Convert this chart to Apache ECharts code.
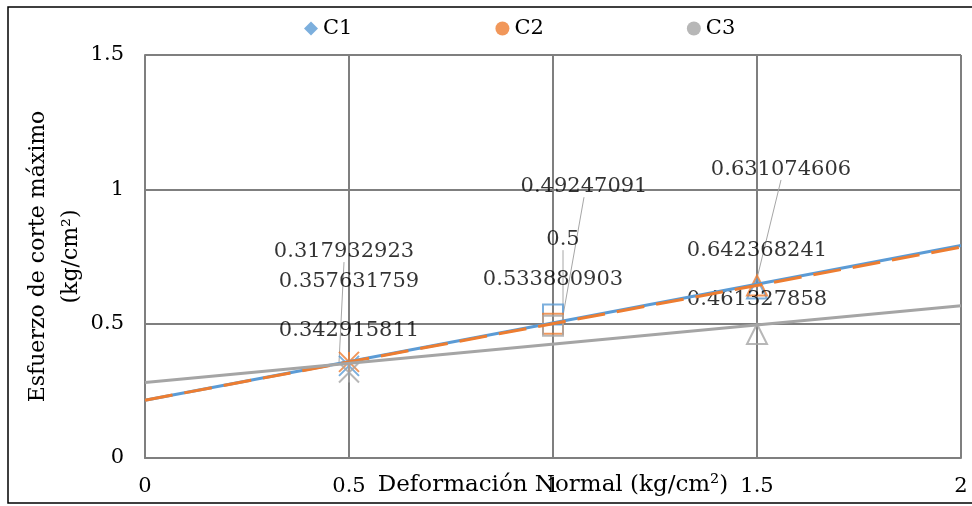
<!DOCTYPE html>
<html><head><meta charset="utf-8">
<script src="https://cdn.jsdelivr.net/npm/echarts@6/dist/echarts.min.js"></script>
<style>html,body{margin:0;padding:0;background:#fff}#chart{width:972px;height:506px}</style>
</head><body><div id="chart"></div>
<script>
// ---- data ----
const seriesNames = ['C1', 'C2', 'C3'];
const xValues = [0.5, 1, 1.5];
const c1Values = [0.342915811, 0.533880903, 0.631074606];
const c2Values = [0.357631759, 0.5, 0.642368241];
const c3Values = [0.317932923, 0.49247091, 0.461327858];
const trendX = [0, 2];
const c1Trend = [0.215, 0.791];
const c2Trend = [0.215, 0.785];
const c3Trend = [0.281, 0.567];
const xAxisTitle = 'Deformación Normal (kg/cm²)';
const yAxisTitle = 'Esfuerzo de corte máximo\n(kg/cm²)';

// ---- styling ----
const FONT = 'DejaVu Serif';
const colors = ['#5B9BD5', '#ED7D31', '#A5A5A5'];
const legendIcons = ['diamond', 'circle', 'circle'];
const pointSymbols = ['path://M0,0L20,20M20,0L0,20M10,0L10,20', 'rect', 'triangle'];
const labelShift = [
  [[0, -35], [0, -35], [24, -119]],
  [[0, -80], [10, -84], [0, -35]],
  [[-5, -121], [31, -139], [0, -35]]
];
const leader = [
  [false, false, true],
  [false, true, false],
  [true, true, false]
];

const values = [c1Values, c2Values, c3Values];
const trends = [c1Trend, c2Trend, c3Trend];

const scatterSeries = seriesNames.map((name, s) => ({
  name,
  type: 'scatter',
  z: 2,
  symbolSize: 20,
  itemStyle: { color: 'transparent', borderColor: colors[s], borderWidth: 2 },
  label: {
    show: true, position: 'inside', color: '#000',
    fontFamily: FONT, fontSize: 21,
    formatter: p => String(p.value[1])
  },
  labelLine: { show: false, lineStyle: { color: '#A6A6A6', width: 1 } },
  labelLayout: p => ({ dx: labelShift[s][p.dataIndex][0], dy: labelShift[s][p.dataIndex][1] }),
  data: xValues.map((x, i) => ({
    value: [x, values[s][i]],
    symbol: pointSymbols[i],
    labelLine: { show: leader[s][i], lineStyle: { color: '#A6A6A6', width: 1 } }
  }))
}));

const trendSeries = seriesNames.map((name, s) => ({
  name: name + ' tendencia',
  type: 'line',
  z: 3,
  symbol: 'none',
  silent: true,
  lineStyle: { color: colors[s], width: 3, type: s === 1 ? [28, 12] : 'solid' },
  data: trendX.map((x, i) => [x, trends[s][i]])
}));

const chart = echarts.init(document.getElementById('chart'));
chart.setOption({
  animation: false,
  backgroundColor: '#fff',
  graphic: [{
    type: 'rect', silent: true, z: -1,
    shape: { x: 8, y: 7, width: 980, height: 496 },
    style: { fill: 'none', stroke: '#000', lineWidth: 1.5 }
  }],
  legend: {
    left: 299, top: 13,
    itemWidth: 14, itemHeight: 14, itemGap: 143,
    textStyle: { fontFamily: FONT, fontSize: 21, color: '#000' },
    data: seriesNames.map((n, s) => ({ name: n, icon: legendIcons[s], itemStyle: { color: colors[s], borderWidth: 0 } }))
  },
  grid: { left: 145, right: 11, top: 55, bottom: 48, outerBoundsMode: 'none', containLabel: false },
  xAxis: {
    type: 'value', min: 0, max: 2, interval: 0.5,
    name: xAxisTitle, nameLocation: 'middle', nameGap: 16, nameMoveOverlap: false,
    nameTextStyle: { fontFamily: FONT, fontSize: 23, color: '#000' },
    axisLine: { show: true, onZero: false, lineStyle: { color: '#7F7F7F', width: 2 } },
    axisTick: { show: false },
    axisLabel: { margin: 18, fontFamily: FONT, fontSize: 21, color: '#000' },
    splitLine: { show: true, lineStyle: { color: '#7F7F7F', width: 2 } }
  },
  yAxis: {
    type: 'value', min: 0, max: 1.5, interval: 0.5,
    name: yAxisTitle, nameLocation: 'middle', nameGap: 57, nameMoveOverlap: false,
    nameTextStyle: { fontFamily: FONT, fontSize: 22, color: '#000', lineHeight: 33 },
    axisLine: { show: true, lineStyle: { color: '#7F7F7F', width: 2 } },
    axisTick: { show: false },
    axisLabel: { margin: 21, fontFamily: FONT, fontSize: 21, color: '#000' },
    splitLine: { show: true, lineStyle: { color: '#7F7F7F', width: 2 } }
  },
  series: [...scatterSeries, ...trendSeries]
});
</script></body></html>
